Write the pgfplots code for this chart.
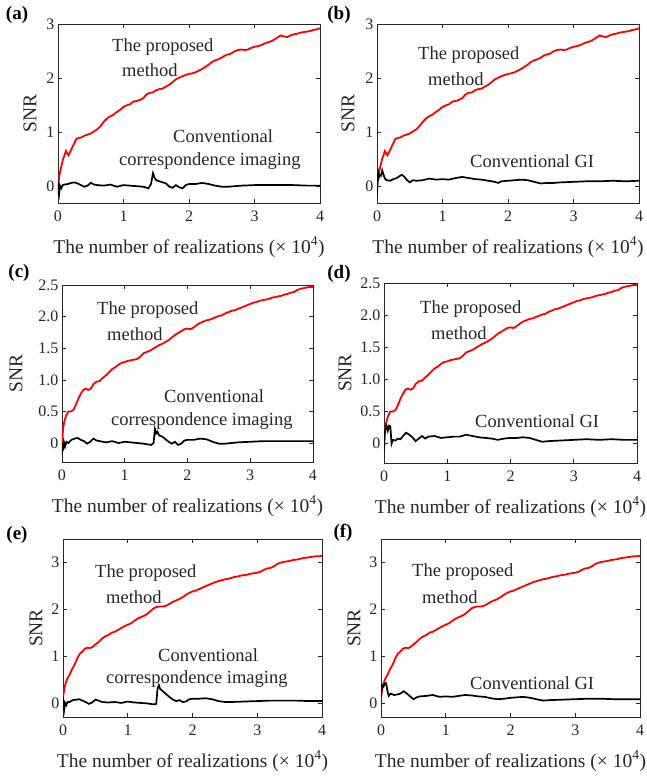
\documentclass[border=0pt]{standalone}
\usepackage{fontspec}
\setmainfont{Liberation Serif}
\usepackage{pgfplots}
\pgfplotsset{compat=1.18}
\usepackage{pgfplotstable}

\pgfplotstableread{
x y
0 0
0.02 0.2
0.04 0.32
0.06 0.42
0.08 0.52
0.10 0.58
0.12 0.66
0.14 0.62
0.16 0.58
0.18 0.63
0.20 0.68
0.24 0.78
0.28 0.88
0.32 0.9
0.36 0.91
0.40 0.94
0.45 0.96
0.50 0.98
0.55 1.02
0.60 1.06
0.65 1.12
0.70 1.2
0.75 1.26
0.80 1.3
0.85 1.33
0.90 1.38
0.95 1.42
1.00 1.47
1.05 1.5
1.10 1.52
1.15 1.57
1.20 1.58
1.25 1.6
1.30 1.63
1.35 1.7
1.40 1.73
1.45 1.74
1.50 1.78
1.55 1.8
1.60 1.81
1.65 1.85
1.70 1.88
1.75 1.93
1.80 1.98
1.85 2.01
1.90 2.04
1.95 2.06
2.00 2.08
2.05 2.09
2.10 2.11
2.15 2.14
2.20 2.17
2.25 2.21
2.30 2.25
2.35 2.3
2.40 2.33
2.45 2.35
2.50 2.38
2.55 2.42
2.60 2.44
2.65 2.46
2.70 2.5
2.75 2.52
2.80 2.53
2.85 2.52
2.90 2.53
2.95 2.56
3.00 2.58
3.05 2.59
3.10 2.61
3.15 2.64
3.20 2.66
3.25 2.68
3.30 2.71
3.35 2.75
3.40 2.79
3.45 2.77
3.50 2.76
3.55 2.79
3.60 2.81
3.65 2.82
3.70 2.84
3.75 2.85
3.80 2.86
3.85 2.87
3.90 2.89
3.95 2.9
4.00 2.92
}\redA

\pgfplotstableread{
x y
0 -0.15
0.01 0.0
0.02 -0.1
0.03 0.02
0.05 -0.03
0.07 0.03
0.1 0.04
0.15 0.05
0.2 0.07
0.25 0.08
0.3 0.06
0.35 0.03
0.4 0.0
0.45 0.02
0.5 0.07
0.55 0.04
0.6 0.03
0.7 0.02
0.8 0.04
0.9 0.0
1.0 0.03
1.1 0.02
1.2 0.01
1.3 0.0
1.38 -0.03
1.42 0.05
1.45 0.25
1.48 0.15
1.5 0.12
1.55 0.1
1.6 0.08
1.65 0.06
1.7 0.0
1.75 -0.02
1.8 0.03
1.85 -0.01
1.9 -0.03
1.95 0.03
2.0 0.05
2.1 0.05
2.2 0.07
2.3 0.05
2.4 0.02
2.5 0.0
2.6 0.0
2.8 0.02
3.0 0.03
3.2 0.03
3.4 0.03
3.6 0.03
3.8 0.02
4.0 0.02
}\blackA

\pgfplotstableread{
x y
0 -0.15
0.01 0.15
0.02 0.25
0.03 0.18
0.04 0.22
0.06 0.2
0.08 0.3
0.1 0.22
0.12 0.15
0.15 0.12
0.2 0.11
0.25 0.14
0.3 0.16
0.35 0.2
0.38 0.22
0.42 0.18
0.46 0.12
0.5 0.08
0.55 0.12
0.6 0.11
0.7 0.12
0.8 0.15
0.9 0.13
1.0 0.14
1.1 0.13
1.2 0.16
1.3 0.18
1.4 0.16
1.5 0.14
1.6 0.13
1.7 0.11
1.8 0.09
1.85 0.07
1.9 0.1
2.0 0.11
2.1 0.12
2.2 0.13
2.3 0.12
2.4 0.09
2.5 0.06
2.6 0.07
2.7 0.07
2.8 0.08
3.0 0.09
3.2 0.1
3.4 0.1
3.6 0.11
3.8 0.1
4.0 0.11
}\blackB

\pgfplotstableread{
x y
0 0
0.02 0.25
0.04 0.35
0.06 0.42
0.08 0.46
0.10 0.5
0.14 0.5
0.18 0.52
0.22 0.6
0.26 0.7
0.30 0.78
0.34 0.84
0.38 0.86
0.42 0.84
0.46 0.86
0.50 0.93
0.55 0.97
0.60 0.98
0.65 1.03
0.70 1.07
0.75 1.12
0.80 1.17
0.85 1.2
0.90 1.24
0.95 1.27
1.00 1.28
1.05 1.3
1.10 1.31
1.15 1.32
1.20 1.33
1.25 1.37
1.30 1.42
1.35 1.44
1.40 1.46
1.45 1.49
1.50 1.52
1.55 1.55
1.60 1.57
1.65 1.6
1.70 1.63
1.75 1.67
1.80 1.71
1.85 1.74
1.90 1.77
1.95 1.8
2.00 1.81
2.05 1.8
2.10 1.83
2.15 1.87
2.20 1.9
2.25 1.92
2.30 1.94
2.35 1.95
2.40 1.97
2.45 1.99
2.50 2.01
2.55 2.02
2.60 2.05
2.65 2.07
2.70 2.09
2.75 2.1
2.80 2.12
2.85 2.14
2.90 2.16
2.95 2.18
3.00 2.2
3.05 2.22
3.10 2.23
3.15 2.25
3.20 2.26
3.25 2.27
3.30 2.28
3.35 2.3
3.40 2.31
3.45 2.32
3.50 2.33
3.55 2.35
3.60 2.36
3.65 2.38
3.70 2.39
3.75 2.42
3.80 2.44
3.85 2.45
3.90 2.46
3.95 2.47
4.00 2.47
}\redC

\pgfplotstableread{
x y
0 -0.18
0.01 0.0
0.02 -0.12
0.03 0.02
0.05 -0.05
0.07 0.02
0.1 0.0
0.15 0.05
0.2 0.07
0.25 0.08
0.3 0.05
0.35 0.03
0.4 -0.01
0.45 0.02
0.5 0.07
0.55 0.04
0.6 0.03
0.7 0.01
0.8 0.03
0.9 0.0
1.0 0.02
1.1 0.01
1.2 0.0
1.3 -0.01
1.42 -0.03
1.46 0.0
1.48 0.22
1.5 0.15
1.52 0.18
1.55 0.12
1.6 0.1
1.65 0.06
1.7 0.02
1.75 -0.01
1.8 0.02
1.85 -0.03
1.9 -0.01
1.95 0.04
2.0 0.05
2.1 0.05
2.2 0.07
2.3 0.06
2.4 0.02
2.5 -0.01
2.6 -0.01
2.8 0.01
3.0 0.02
3.2 0.03
3.4 0.03
3.6 0.03
3.8 0.03
4.0 0.03
}\blackC

\pgfplotstableread{
x y
0 -0.1
0.01 0.15
0.02 0.22
0.04 0.28
0.06 0.2
0.08 0.28
0.1 0.27
0.12 0.0
0.14 0.06
0.18 0.05
0.22 0.08
0.26 0.07
0.3 0.12
0.35 0.17
0.4 0.14
0.45 0.1
0.5 0.04
0.55 0.08
0.6 0.12
0.65 0.08
0.7 0.11
0.8 0.12
0.9 0.09
1.0 0.1
1.1 0.11
1.2 0.11
1.3 0.14
1.4 0.12
1.5 0.1
1.6 0.09
1.7 0.08
1.8 0.06
1.9 0.08
2.0 0.09
2.1 0.09
2.2 0.1
2.3 0.09
2.4 0.06
2.5 0.03
2.6 0.04
2.8 0.05
3.0 0.06
3.2 0.07
3.4 0.06
3.6 0.07
3.8 0.06
4.0 0.06
}\blackD

\pgfplotstableread{
x y
0 0.12
0.02 0.3
0.04 0.42
0.06 0.5
0.08 0.55
0.10 0.6
0.14 0.72
0.18 0.82
0.22 0.95
0.26 1.05
0.30 1.1
0.34 1.16
0.38 1.18
0.42 1.17
0.46 1.2
0.50 1.25
0.55 1.3
0.60 1.37
0.65 1.42
0.70 1.45
0.75 1.5
0.80 1.52
0.85 1.56
0.90 1.6
0.95 1.64
1.00 1.67
1.05 1.7
1.10 1.75
1.15 1.8
1.20 1.83
1.25 1.86
1.30 1.9
1.35 1.96
1.40 2.02
1.45 2.05
1.50 2.06
1.55 2.06
1.60 2.08
1.65 2.12
1.70 2.16
1.75 2.19
1.80 2.22
1.85 2.26
1.90 2.31
1.95 2.35
2.00 2.38
2.05 2.4
2.10 2.43
2.15 2.46
2.20 2.49
2.25 2.52
2.30 2.55
2.35 2.58
2.40 2.6
2.45 2.62
2.50 2.64
2.55 2.65
2.60 2.67
2.65 2.69
2.70 2.7
2.75 2.72
2.80 2.73
2.85 2.74
2.90 2.76
2.95 2.77
3.00 2.78
3.05 2.8
3.10 2.84
3.15 2.87
3.20 2.88
3.25 2.91
3.30 2.96
3.35 2.99
3.40 3.01
3.45 3.02
3.50 3.03
3.55 3.05
3.60 3.06
3.65 3.07
3.70 3.09
3.75 3.1
3.80 3.11
3.85 3.12
3.90 3.13
3.95 3.13
4.00 3.14
}\redE

\pgfplotstableread{
x y
0 -0.15
0.01 0.0
0.02 -0.12
0.03 0.0
0.05 -0.05
0.07 0.02
0.1 0.02
0.15 0.06
0.2 0.07
0.25 0.08
0.3 0.05
0.35 0.02
0.4 -0.02
0.45 0.01
0.5 0.07
0.55 0.05
0.6 0.02
0.7 0.01
0.8 0.02
0.9 0.0
1.0 0.03
1.1 0.01
1.2 0.0
1.3 -0.01
1.4 -0.03
1.44 -0.02
1.46 0.3
1.48 0.38
1.5 0.3
1.55 0.24
1.6 0.18
1.65 0.12
1.7 0.07
1.75 0.04
1.8 0.06
1.85 0.02
1.9 0.03
1.95 0.08
2.0 0.09
2.1 0.09
2.2 0.1
2.3 0.08
2.4 0.04
2.5 0.02
2.6 0.02
2.8 0.03
3.0 0.04
3.2 0.05
3.4 0.05
3.6 0.05
3.8 0.04
4.0 0.04
}\blackE

\pgfplotstableread{
x y
0 0.12
0.01 0.3
0.02 0.38
0.04 0.35
0.06 0.42
0.08 0.42
0.1 0.25
0.12 0.15
0.15 0.2
0.2 0.17
0.25 0.18
0.3 0.2
0.35 0.25
0.4 0.2
0.45 0.14
0.5 0.08
0.55 0.12
0.6 0.14
0.7 0.15
0.8 0.17
0.9 0.13
1.0 0.14
1.1 0.13
1.2 0.15
1.3 0.17
1.4 0.16
1.5 0.14
1.6 0.13
1.7 0.1
1.8 0.08
1.9 0.09
2.0 0.11
2.1 0.12
2.2 0.13
2.3 0.11
2.4 0.08
2.5 0.05
2.6 0.06
2.8 0.07
3.0 0.08
3.2 0.09
3.4 0.09
3.6 0.08
3.8 0.08
4.0 0.08
}\blackF

\pgfplotsset{
  panel/.style={
    scale only axis,
    anchor=south west,
    xmin=0, xmax=4,
    xtick={0,1,2,3,4},
    tick align=inside,
    major tick length=4pt,
    axis line style={black!85, line width=0.6pt},
    every tick/.style={black!85, line width=0.6pt},
    /pgf/number format/assume math mode=true,
    tick label style={font=\fontsize{16}{16}\selectfont, text=black!85},
    xticklabel style={yshift=-4pt},
    label style={font=\fontsize{19.5}{20}\selectfont, text=black!85},
    xlabel={The number of realizations (× 10\textsuperscript{4})},
    ylabel={SNR},
    xlabel style={at={(rel axis cs:0.5,0)}, anchor=center, yshift=-44pt},
    ylabel style={at={(rel axis cs:0,0.5)}, anchor=center},
  },
  redline/.style={red, line width=1.8pt},
  blkline/.style={black, line width=1.7pt},
}

\newcommand{\ann}{\fontsize{18.5}{20}\selectfont}

\begin{document}
\begin{tikzpicture}[x=1pt,y=1pt]
\path[use as bounding box] (0,0) rectangle (647,776);

% (a)
\begin{axis}[panel, at={(58pt,573pt)}, width=262pt, height=179pt,
  ymin=-0.3, ymax=3, ytick={0,1,2,3}, ylabel style={yshift=28pt}]
\addplot[redline] table[x=x,y=y]{\redA};
\addplot[blkline] table[x=x,y=y]{\blackA};
\end{axis}

% (b)
\begin{axis}[panel, at={(377pt,573pt)}, width=262pt, height=179pt,
  ymin=-0.3, ymax=3, ytick={0,1,2,3}, ylabel style={yshift=29pt}]
\addplot[redline] table[x=x,y=y]{\redA};
\addplot[blkline] table[x=x,y=y]{\blackB};
\end{axis}

% (c)
\begin{axis}[panel, at={(62pt,314pt)}, width=251pt, height=177pt,
  ymin=-0.3, ymax=2.5, ytick={0,0.5,1,1.5,2,2.5},
  yticklabels={0,0.5,1.0,1.5,2.0,2.5}, ylabel style={yshift=46pt}]
\addplot[redline] table[x=x,y=y]{\redC};
\addplot[blkline] table[x=x,y=y]{\blackC};
\end{axis}

% (d)
\begin{axis}[panel, at={(384pt,313pt)}, width=253pt, height=180pt,
  ymin=-0.3, ymax=2.5, ytick={0,0.5,1,1.5,2,2.5},
  yticklabels={0,0.5,1.0,1.5,2.0,2.5}, ylabel style={yshift=39pt}]
\addplot[redline] table[x=x,y=y]{\redC};
\addplot[blkline] table[x=x,y=y]{\blackD};
\end{axis}

% (e)
\begin{axis}[panel, at={(63pt,59pt)}, width=259pt, height=178pt,
  ymin=-0.3, ymax=3.5, ytick={0,1,2,3}, ylabel style={yshift=27pt}]
\addplot[redline] table[x=x,y=y]{\redE};
\addplot[blkline] table[x=x,y=y]{\blackE};
\end{axis}

% (f)
\begin{axis}[panel, at={(381pt,59pt)}, width=259pt, height=178pt,
  ymin=-0.3, ymax=3.5, ytick={0,1,2,3}, ylabel style={yshift=27pt}]
\addplot[redline] table[x=x,y=y]{\redE};
\addplot[blkline] table[x=x,y=y]{\blackF};
\end{axis}

% panel letters
\begin{scope}[every node/.style={font=\fontsize{19}{20}\selectfont\bfseries}]
\node at (17,761) {(a)};
\node at (339,761) {(b)};
\node at (19,503) {(c)};
\node at (339,502) {(d)};
\node at (17,241) {(e)};
\node at (343,243) {(f)};
\end{scope}

% annotations
\begin{scope}[every node/.style={font=\ann, anchor=west, inner sep=0pt, text=black!85}]
\node at (112,729) {The proposed};
\node at (122,706) {method};
\node at (173,640) {Conventional};
\node at (119,615) {correspondence imaging};

\node at (418,721) {The proposed};
\node at (428,697) {method};
\node at (470,615) {Conventional GI};

\node at (97,466) {The proposed};
\node at (107,442) {method};
\node at (164,380) {Conventional};
\node at (111,355) {correspondence imaging};

\node at (420,467) {The proposed};
\node at (431,443) {method};
\node at (475,355) {Conventional GI};

\node at (95,203) {The proposed};
\node at (106,179) {method};
\node at (158,121) {Conventional};
\node at (106,97) {correspondence imaging};

\node at (412,204) {The proposed};
\node at (422,179) {method};
\node at (470,93) {Conventional GI};
\end{scope}
\end{tikzpicture}
\end{document}
